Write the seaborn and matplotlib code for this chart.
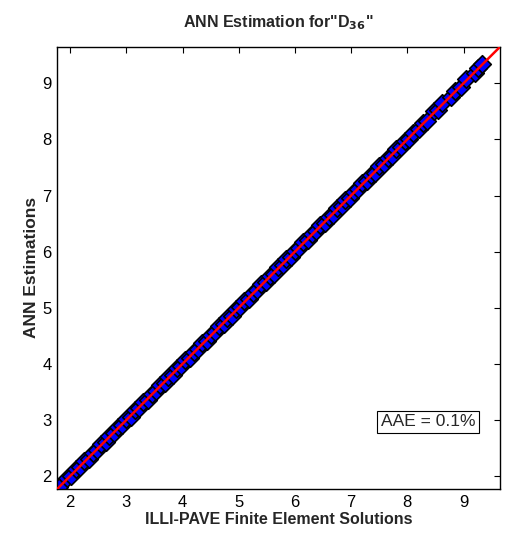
import numpy as np
import matplotlib
matplotlib.use("Agg")
import matplotlib.pyplot as plt
import seaborn as sns

# FE solutions vs ANN estimates
fe_sol = [1.80, 1.95, 2.02, 2.10, 2.18, 2.25, 2.33, 2.40, 2.48, 2.55, 2.63, 2.70,
          2.78, 2.85, 2.93, 3.00, 3.08, 3.15, 3.23, 3.30, 3.38, 3.45, 3.53, 3.60,
          3.68, 3.75, 3.83, 3.90, 3.98, 4.05, 4.13, 4.20, 4.28, 4.35, 4.43, 4.50,
          4.58, 4.65, 4.73, 4.80, 4.88, 4.95, 5.03, 5.10, 5.18, 5.25, 5.33, 5.40,
          5.48, 5.55, 5.63, 5.70, 5.78, 5.85, 5.93, 6.00, 6.08, 6.15, 6.23, 6.30,
          6.38, 6.45, 6.53, 6.60, 6.68, 6.75, 6.83, 6.90, 6.98, 7.05, 7.13, 7.20,
          7.28, 7.35, 7.43, 7.50, 7.58, 7.65, 7.73, 7.80, 7.88, 7.95, 8.03, 8.10,
          8.20, 8.28, 8.35, 8.48, 8.55, 8.62, 8.78, 8.84, 8.96, 9.05, 9.20, 9.26, 9.33]
ann_est = [1.81, 1.97, 2.00, 2.12, 2.16, 2.27, 2.31, 2.42, 2.46, 2.57, 2.61, 2.72,
           2.76, 2.87, 2.91, 3.02, 3.06, 3.17, 3.21, 3.32, 3.36, 3.47, 3.51, 3.62,
           3.66, 3.77, 3.81, 3.92, 3.96, 4.07, 4.11, 4.22, 4.26, 4.37, 4.41, 4.52,
           4.56, 4.67, 4.71, 4.82, 4.86, 4.97, 5.01, 5.12, 5.16, 5.27, 5.31, 5.42,
           5.46, 5.57, 5.61, 5.72, 5.76, 5.87, 5.91, 6.02, 6.06, 6.17, 6.21, 6.32,
           6.36, 6.47, 6.51, 6.62, 6.66, 6.77, 6.81, 6.92, 6.96, 7.07, 7.11, 7.22,
           7.26, 7.37, 7.41, 7.52, 7.56, 7.67, 7.71, 7.82, 7.86, 7.97, 8.01, 8.12,
           8.18, 8.30, 8.33, 8.50, 8.53, 8.64, 8.76, 8.86, 8.94, 9.07, 9.18, 9.28, 9.34]

lims = (1.77, 9.65)
ticks = [2, 3, 4, 5, 6, 7, 8, 9]

sns.set_style("white")
plt.rcParams['font.family'] = ['Liberation Sans', 'DejaVu Sans']

fig = plt.figure(figsize=(5.15, 5.44), dpi=100)
ax = fig.add_axes([0.111, 0.101, 0.860, 0.813])

sns.scatterplot(x=fe_sol, y=ann_est, ax=ax, marker='D', s=80,
                color='blue', edgecolor='black', linewidth=1.2, zorder=2)
ax.axline((0, 0), slope=1, color='red', lw=1.8, zorder=3)

ax.set_xlim(lims)
ax.set_ylim(lims)
ax.set_xticks(ticks)
ax.set_yticks(ticks)
ax.tick_params(direction='in', length=4, width=0.8, labelsize=12,
               top=True, right=True, colors='black', pad=4)
for sp in ax.spines.values():
    sp.set_color('black')
    sp.set_linewidth(1.0)

ax.set_xlabel('ILLI-PAVE Finite Element Solutions', fontsize=11.5,
              fontweight='bold', labelpad=2)
ax.set_ylabel('ANN Estimations', fontsize=12.5, fontweight='bold', labelpad=2)
ax.set_title('ANN Estimation for"D$_{\\mathbf{36}}$"', fontsize=11.5,
             fontweight='bold', pad=14)

ax.text(0.944, 0.152, 'AAE = 0.1%', transform=ax.transAxes, ha='right',
        va='center', fontsize=12.5,
        bbox=dict(boxstyle='square,pad=0.2', fc='white', ec='black', lw=0.8))

fig.savefig('out.png', dpi=100)
